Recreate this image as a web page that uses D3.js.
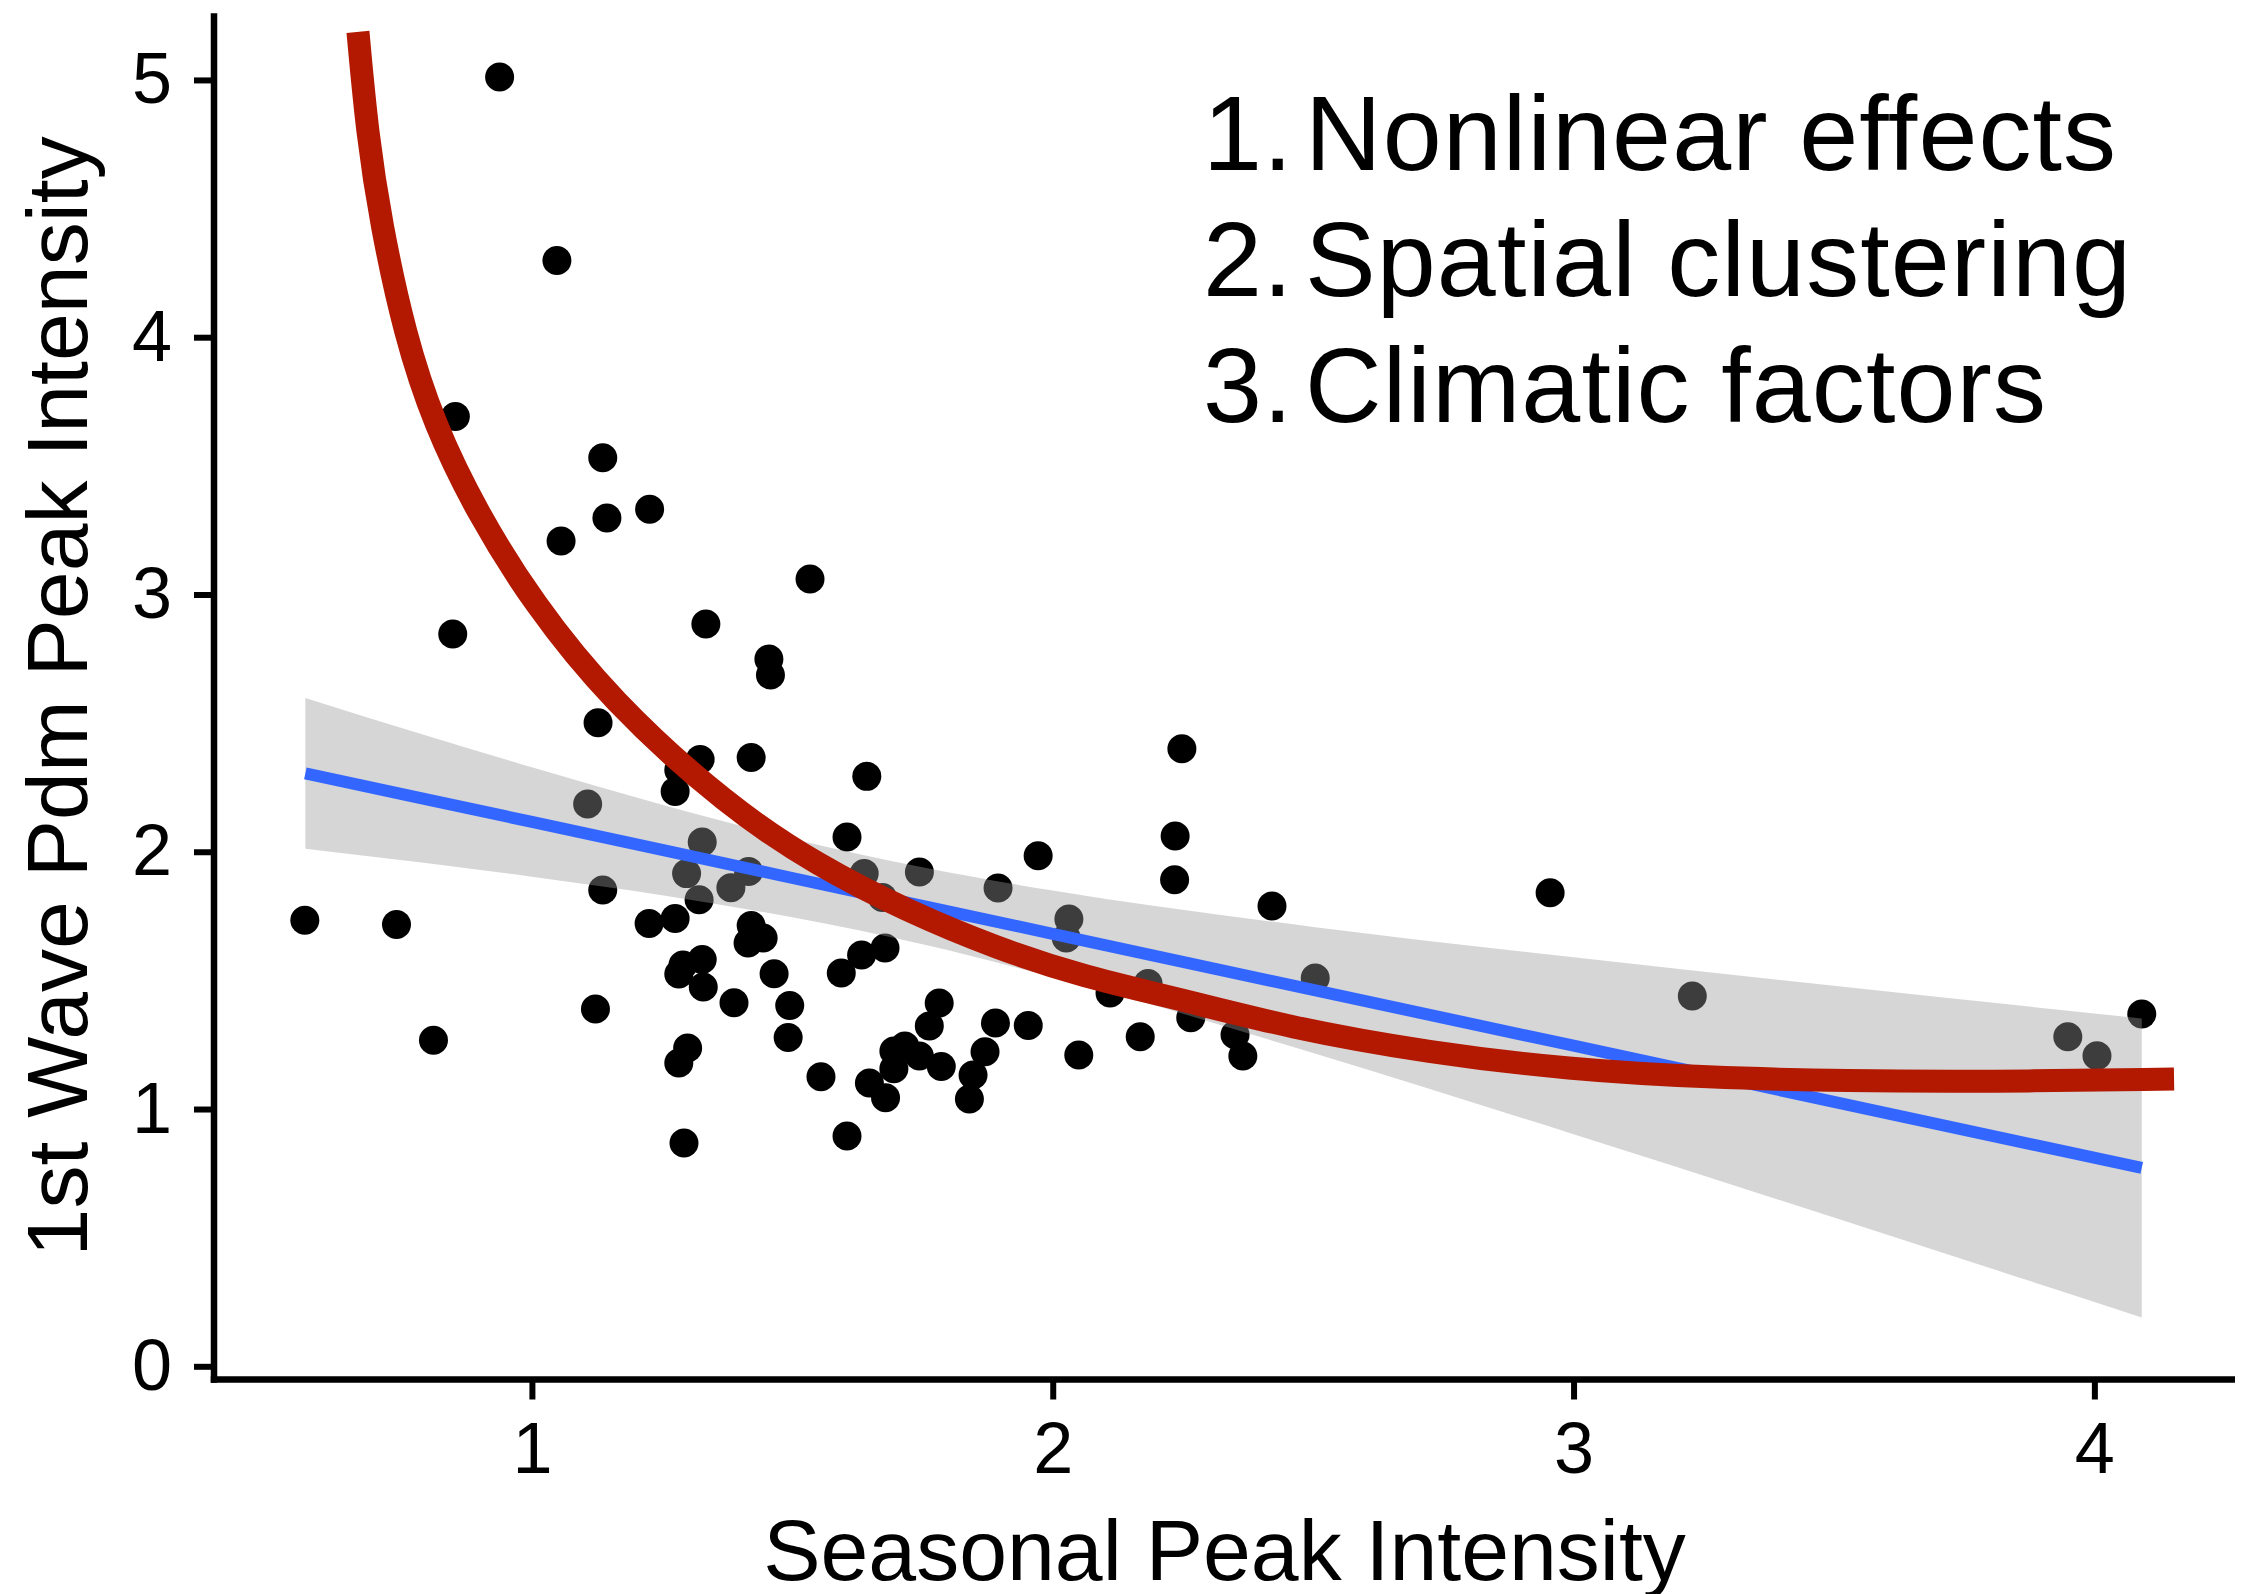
<!DOCTYPE html>
<html>
  <head>
    <meta charset="utf-8">
    <title>Seasonal vs 1st wave peak intensity</title>
    <style>
    body { margin: 0; border: 0; overflow: hidden; background: #fff; }
    text { font-family: "Liberation Sans", Arial, Helvetica, sans-serif; fill: #000; }
    .axis text { font-size: 72px; }
    .axis line { stroke: #000; stroke-width: 6px; }
    .title { font-size: 86px; }
    .note { font-size: 106px; letter-spacing: 1.1px; }
    </style>
  </head>
  <body>
    <script src="https://cdnjs.cloudflare.com/ajax/libs/d3/7.8.5/d3.min.js"></script>
    <script>
// points: seasonal peak (x) vs 1st wave pdm peak (y)
var seasonal = [0.564, 0.740, 0.811, 0.853, 0.848, 0.938, 1.048, 1.056, 1.136, 1.144,
  1.127, 1.107, 1.136, 1.122, 1.226, 1.225, 1.275, 1.282, 1.323, 1.334,
  1.327, 1.297, 1.321, 1.275, 1.282, 1.290, 1.327, 1.329, 1.299, 1.282,
  1.292, 1.388, 1.382, 1.416, 1.421, 1.455, 1.458, 1.421, 1.415, 1.444,
  1.465, 1.492, 1.495, 1.534, 1.555, 1.594, 1.605, 1.605, 1.633, 1.643,
  1.638, 1.648, 1.673, 1.678, 1.679, 1.695, 1.695, 1.716, 1.744, 1.744,
  1.763, 1.782, 1.786, 1.840, 1.847, 1.870, 1.895, 1.890, 1.953, 1.972,
  2.031, 2.026, 2.050, 2.110, 2.168, 2.183, 2.248, 2.235, 2.234, 2.265,
  2.350, 2.365, 2.421, 2.504, 2.955, 3.228, 3.949, 4.005, 4.091];
var firstWave = [1.734, 1.717, 1.267, 3.692, 2.846, 5.011, 4.298, 3.208, 3.531, 3.297,
  2.501, 2.186, 1.851, 1.389, 3.331, 1.721, 2.234, 2.318, 2.359, 2.885,
  2.038, 1.915, 1.813, 1.741, 1.525, 1.560, 1.581, 1.474, 1.237, 1.179,
  0.868, 1.413, 1.860, 1.923, 2.366, 2.749, 2.687, 1.713, 1.645, 1.665,
  1.526, 1.278, 1.402, 3.060, 1.125, 1.529, 0.895, 2.057, 1.599, 2.293,
  1.915, 1.101, 1.822, 1.626, 1.044, 1.157, 1.226, 1.245, 1.921, 1.206,
  1.323, 1.412, 1.165, 1.039, 1.132, 1.223, 1.859, 1.334, 1.325, 1.984,
  1.739, 1.665, 1.210, 1.451, 1.281, 1.488, 2.400, 2.061, 1.891, 1.355,
  1.289, 1.206, 1.789, 1.509, 1.841, 1.439, 1.281, 1.207, 1.369];

// linear fit with its confidence band
var fitX     = [0.565, 0.8, 1.0, 1.25, 1.5, 1.75, 2.0, 2.5, 3.0, 3.5, 4.091];
var fitY     = [2.305, 2.203, 2.116, 2.007, 1.898, 1.790, 1.681, 1.463, 1.246, 1.028, 0.771];
var fitLower = [2.012, 1.955, 1.903, 1.831, 1.745, 1.640, 1.513, 1.218, 0.902, 0.578, 0.190];
var fitUpper = [2.598, 2.450, 2.328, 2.183, 2.051, 1.940, 1.849, 1.708, 1.590, 1.479, 1.352];

// hand drawn nonlinear curve
var curveX = [0.666, 0.684, 0.710, 0.756, 0.812, 0.895, 1.002, 1.150, 1.378, 1.549,
  1.720, 1.892, 2.063, 2.235, 2.455, 2.723, 2.991, 3.258, 3.527, 3.795, 4.153];
var curveY = [5.187, 4.790, 4.444, 4.009, 3.663, 3.317, 2.968, 2.590, 2.173, 1.947,
  1.770, 1.625, 1.512, 1.432, 1.316, 1.219, 1.154, 1.122, 1.109, 1.106, 1.117];

var xTicks = [1, 2, 3, 4];
var yTicks = [0, 1, 2, 3, 4, 5];
var noteNums = ["1.", "2.", "3."];
var notes = ["Nonlinear effects", "Spatial clustering", "Climatic factors"];

var width = 2244, height = 1594,
    margin = ({top: 13.3, right: 9, bottom: 214.5, left: 214});

var x_scale = d3.scaleLinear().domain([0.3896, 4.270]).range([margin.left, width - margin.right]),
    y_scale = d3.scaleLinear().domain([-0.0513, 5.259]).range([height - margin.bottom, margin.top]);

var svg = d3.select("body").append("svg")
    .attr("width", width)
    .attr("height", height);

svg.append("rect").attr("width", width).attr("height", height).attr("fill", "#fff");

// points
svg.append("g").selectAll("circle")
  .data(d3.range(seasonal.length))
  .enter()
  .append("circle")
  .attr("cx", function(i) { return x_scale(seasonal[i]); })
  .attr("cy", function(i) { return y_scale(firstWave[i]); })
  .attr("r", 14.5)
  .attr("fill", "#000");

var band = d3.range(fitX.length);

svg.append("path")
  .datum(band)
  .attr("d", d3.area()
    .curve(d3.curveMonotoneX)
    .x(function(i) { return x_scale(fitX[i]); })
    .y0(function(i) { return y_scale(fitLower[i]); })
    .y1(function(i) { return y_scale(fitUpper[i]); }))
  .attr("fill", "#999999")
  .attr("fill-opacity", 0.4);

svg.append("path")
  .datum(band)
  .attr("d", d3.line()
    .x(function(i) { return x_scale(fitX[i]); })
    .y(function(i) { return y_scale(fitY[i]); }))
  .attr("fill", "none")
  .attr("stroke", "#3366FF")
  .attr("stroke-width", 12);

svg.append("path")
  .datum(d3.range(curveX.length))
  .attr("d", d3.line()
    .curve(d3.curveBasis)
    .x(function(i) { return x_scale(curveX[i]); })
    .y(function(i) { return y_scale(curveY[i]); }))
  .attr("fill", "none")
  .attr("stroke", "#B31800")
  .attr("stroke-width", 23)
  .attr("stroke-linecap", "butt");

// axes
var x_axis = d3.axisBottom(x_scale).tickValues(xTicks).tickFormat(d3.format("d"))
  .tickSize(20).tickSizeOuter(0).tickPadding(22);
var y_axis = d3.axisLeft(y_scale).tickValues(yTicks).tickFormat(d3.format("d"))
  .tickSize(20).tickSizeOuter(0).tickPadding(22);

var gx = svg.append("g")
  .attr("class", "axis")
  .attr("transform", "translate(0," + y_scale.range()[0] + ")")
  .call(x_axis);
gx.select(".domain").remove();
gx.selectAll("text").attr("font-size", null).attr("font-family", null);

var gy = svg.append("g")
  .attr("class", "axis")
  .attr("transform", "translate(" + x_scale.range()[0] + ",0)")
  .call(y_axis);
gy.select(".domain").remove();
gy.selectAll("text").attr("font-size", null).attr("font-family", null);

svg.append("line")
  .attr("x1", x_scale.range()[0] - 3.25).attr("x2", x_scale.range()[1])
  .attr("y1", y_scale.range()[0]).attr("y2", y_scale.range()[0])
  .attr("stroke", "#000").attr("stroke-width", 6.5);
svg.append("line")
  .attr("x1", x_scale.range()[0]).attr("x2", x_scale.range()[0])
  .attr("y1", y_scale.range()[0] + 3.25).attr("y2", y_scale.range()[1])
  .attr("stroke", "#000").attr("stroke-width", 6.5);

svg.append("text")
  .attr("class", "title")
  .attr("x", (x_scale.range()[0] + x_scale.range()[1]) / 2)
  .attr("y", 1580)
  .attr("text-anchor", "middle")
  .text("Seasonal Peak Intensity");

svg.append("text")
  .attr("class", "title")
  .attr("transform", "translate(87," + (y_scale.range()[0] + y_scale.range()[1]) / 2 + ") rotate(-90)")
  .attr("text-anchor", "middle")
  .text("1st Wave Pdm Peak Intensity");

// annotation list
var note_g = svg.append("g").selectAll("g")
  .data(notes)
  .enter()
  .append("g");

note_g.append("text")
  .attr("class", "note")
  .attr("x", 1203)
  .attr("y", function(d, i) { return 170 + i * 126; })
  .text(function(d, i) { return noteNums[i]; });

note_g.append("text")
  .attr("class", "note")
  .attr("x", 1305)
  .attr("y", function(d, i) { return 170 + i * 126; })
  .text(function(d) { return d; });
    </script>
  </body>
</html>
